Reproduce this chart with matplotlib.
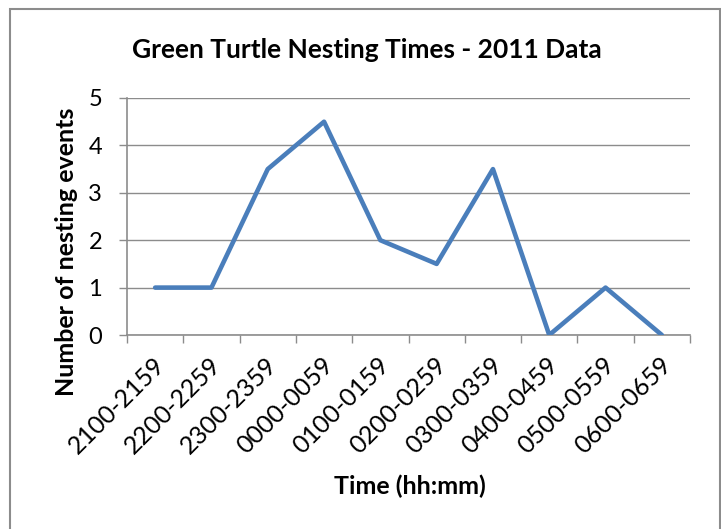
import matplotlib
matplotlib.use("Agg")
import matplotlib.pyplot as plt
from matplotlib.patches import Rectangle
from matplotlib.ticker import FixedLocator, NullFormatter

# Nesting counts per hourly window
time_windows = ["2100-2159", "2200-2259", "2300-2359", "0000-0059", "0100-0159",
                "0200-0259", "0300-0359", "0400-0459", "0500-0559", "0600-0659"]
nesting_events = [1, 1, 3.5, 4.5, 2, 1.5, 3.5, 0, 1, 0]

plt.rcParams["font.family"] = ["Lato", "DejaVu Sans"]

W, H = 721, 529
fig = plt.figure(figsize=(W / 100, H / 100), dpi=100)

# chart frame
fig.patches.append(Rectangle((10 / W, -0.05), 710 / W, 1.05 - 9 / H,
                             transform=fig.transFigure, fill=False,
                             edgecolor="#8c8c8c", linewidth=1.5))

ax = fig.add_axes([127 / W, 1 - 335 / H, (690 - 127) / W, (335 - 98) / H])
grid_c = "#8c8c8c"

x = list(range(len(time_windows)))
ax.plot(x, nesting_events, color="#4a7ebb", linewidth=3.3,
        solid_capstyle="round", solid_joinstyle="round", zorder=3)

ax.set_xlim(-0.5, len(time_windows) - 0.5)
ax.set_ylim(0, 5)
ax.set_yticks(range(0, 6))
ax.yaxis.grid(True, color=grid_c, linewidth=1)
ax.set_axisbelow(True)

ax.xaxis.set_major_locator(FixedLocator([i - 0.5 for i in range(len(time_windows) + 1)]))
ax.xaxis.set_major_formatter(NullFormatter())
ax.xaxis.set_minor_locator(FixedLocator(x))
ax.tick_params(axis="x", which="major", length=6, width=1, color=grid_c, direction="out")
ax.tick_params(axis="x", which="minor", length=0)
ax.tick_params(axis="y", length=6, width=1, color=grid_c, labelsize=17, pad=12)

for s in ("top", "right"):
    ax.spines[s].set_visible(False)
for s in ("left", "bottom"):
    ax.spines[s].set_color(grid_c)
    ax.spines[s].set_linewidth(1.2)

for i, lab in enumerate(time_windows):
    ax.annotate(lab, xy=(i, 0), xycoords="data", xytext=(4, -19),
                textcoords="offset points", rotation=45, rotation_mode="anchor",
                ha="right", va="center", fontsize=18)

fig.text(367 / W, 1 - 50 / H, "Green Turtle Nesting Times - 2011 Data",
         ha="center", va="center", fontsize=19, fontweight="bold")
fig.text(410 / W, 1 - 486 / H, "Time (hh:mm)", ha="center", va="center",
         fontsize=18, fontweight="bold")
fig.text(67 / W, 1 - 252 / H, "Number of nesting events", ha="center", va="center",
         rotation=90, fontsize=18, fontweight="bold")

fig.savefig("out.png", dpi=100)
